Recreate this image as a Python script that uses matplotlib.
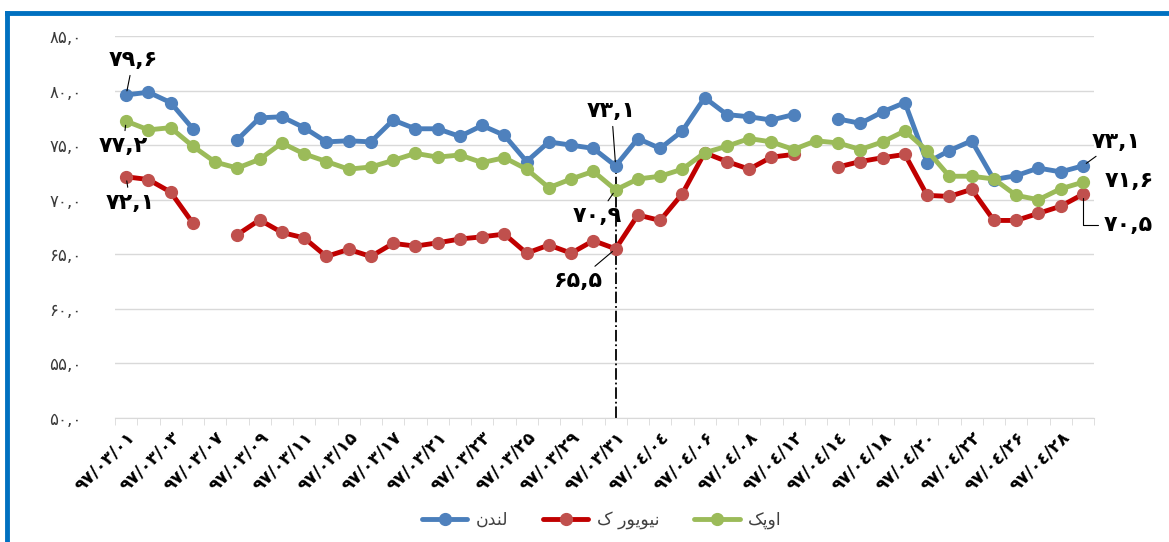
import numpy as np, matplotlib
matplotlib.use("Agg")
import matplotlib.pyplot as plt
from matplotlib.lines import Line2D

# daily prices (97/03/01 .. 97/04/29), nan = no quote
days = ["03/01", "03/02", "03/03", "03/06", "03/07", "03/08", "03/09", "03/10", "03/11",
        "03/14", "03/15", "03/16", "03/17", "03/20", "03/21", "03/22", "03/23", "03/24",
        "03/25", "03/28", "03/29", "03/30", "03/31", "04/03", "04/04", "04/05", "04/06",
        "04/07", "04/08", "04/11", "04/12", "04/13", "04/14", "04/17", "04/18", "04/19",
        "04/20", "04/21", "04/22", "04/25", "04/26", "04/27", "04/28", "04/29"]
nan = np.nan
london = [79.6, 79.85, 78.9, 76.5, nan, 75.5, 77.5, 77.6, 76.6, 75.3, 75.4,
          75.3, 77.3, 76.5, 76.5, 75.8, 76.8, 75.9, 73.5, 75.3, 75.0, 74.7,
          73.1, 75.6, 74.7, 76.3, 79.35, 77.8, 77.6, 77.3, 77.8, nan, 77.4,
          77.0, 78.05, 78.9, 73.4, 74.5, 75.4, 71.85, 72.2, 72.9, 72.55, 73.1]
newyork = [72.1, 71.85, 70.7, 67.85, nan, 66.8, 68.15, 67.0, 66.5, 64.8, 65.45,
           64.8, 66.0, 65.75, 66.05, 66.4, 66.6, 66.85, 65.1, 65.85, 65.1, 66.25,
           65.5, 68.6, 68.1, 70.55, 74.3, 73.5, 72.8, 73.9, 74.15, nan, 73.0,
           73.5, 73.85, 74.15, 70.4, 70.3, 70.95, 68.1, 68.1, 68.75, 69.4, 70.5]
opec = [77.2, 76.4, 76.6, 74.9, 73.45, 72.9, 73.7, 75.2, 74.2, 73.5, 72.8,
        73.0, 73.6, 74.25, 73.9, 74.1, 73.4, 73.85, 72.8, 71.1, 71.9, 72.6,
        70.9, 71.9, 72.15, 72.8, 74.3, 74.9, 75.6, 75.3, 74.6, 75.4, 75.2,
        74.6, 75.3, 76.3, 74.5, 72.15, 72.15, 71.9, 70.4, 70.0, 71.0, 71.6]

# legend names, pre-shaped (visual order) since matplotlib has no RTL shaping
names = ["\uFEE5\uFEAA\uFEE8\uFEDF",                      # لندن
         "\uFB8E \uFEAD\uFEEE\uFBFE\uFEEE\uFBFF\uFEE7",     # نیویورک
         "\uFB8F\uFB58\uFEED\uFE8D"]                        # اوپک

FA = str.maketrans("0123456789", "۰۱۲۳۴۵۶۷۸۹")
def fa(s):
    return s.translate(FA)

def num(v):
    return fa(f"{v:.1f}".replace(".", ","))

def date_label(d):
    return fa("97/" + d).replace("۴", "٤")

fig = plt.figure(figsize=(11.69, 5.42), dpi=100)
ax = fig.add_axes([115/1169, 1-418/542, 979/1169, 382/542])
x = np.arange(len(days))

styles = [(london, "#4A7EBB", "#4F81BD"), (newyork, "#C00000", "#C0504D"), (opec, "#9BBB59", "#9BBB59")]
for (vals, lc, mc), name in zip(styles, names):
    ax.plot(x, vals, color=lc, lw=3.5, marker="o", ms=8.5, mfc=mc, mec=mc, label=name,
            solid_capstyle="round", zorder=3)

ax.set_xlim(-0.5, len(days)-0.5)
ax.set_ylim(50, 85)
ax.set_yticks(np.arange(50, 86, 5))
ax.set_yticklabels([num(v) for v in range(50, 86, 5)], fontsize=12, color="#3A3A3A")
ax.grid(axis="y", color="#D9D9D9", lw=1)
ax.set_axisbelow(True)
ax.tick_params(axis="y", length=0, pad=24)
for s in ["top", "right", "left"]:
    ax.spines[s].set_visible(False)
ax.spines["bottom"].set_color("#D9D9D9")

ax.set_xticks(x[::2])
ax.set_xticklabels([date_label(d) for d in days[::2]], rotation=45, ha="right",
                   rotation_mode="anchor", fontsize=12.5, fontweight="bold")
ax.set_xticks(np.arange(-0.5, len(days), 1), minor=True)
ax.tick_params(axis="x", which="major", length=0, pad=7)
ax.tick_params(axis="x", which="minor", length=5, color="#D9D9D9")

# marker day
ax.vlines(22, 50, london[22], colors="black", linestyles="dashdot", lw=1.3, zorder=2)

lead = dict(arrowstyle="-", color="black", lw=0.8, shrinkA=2, shrinkB=3)
labels = [(london, 0, (7, 35)), (opec, 0, (-3, -25)), (newyork, 0, (4, -26)),
          (london, 22, (-4, 55)), (opec, 22, (-18, -26)), (newyork, 22, (-38, -32)),
          (london, 43, (33, 24))]
for vals, i, off in labels:
    ax.annotate(num(vals[i]), (i, vals[i]), xytext=off,
                textcoords="offset pixels", ha="center", va="center", fontsize=16,
                fontweight="bold", arrowprops=lead, annotation_clip=False)
ax.annotate(num(opec[43]), (43, opec[43]), xytext=(46, 1),
            textcoords="offset pixels", ha="center", va="center", fontsize=16,
            fontweight="bold", annotation_clip=False)
ax.annotate(num(newyork[43]), (43, newyork[43]), xytext=(45, -31),
            textcoords="offset pixels", ha="center", va="center", fontsize=16,
            fontweight="bold", annotation_clip=False,
            arrowprops=dict(arrowstyle="-", color="black", lw=0.8, shrinkA=2, shrinkB=3,
                            connectionstyle="angle,angleA=0,angleB=90,rad=0"))

ax.legend(loc="center", bbox_to_anchor=(602/1169, 1-520/542), bbox_transform=fig.transFigure,
          ncol=3, frameon=False, fontsize=12.5, handlelength=2.6, handletextpad=0.5,
          columnspacing=2.0, labelcolor="#404040")

# blue frame of the original slide
fig.add_artist(Line2D([7/1169, 7/1169], [0, 1-13/542], color="#0070C0", lw=3.5))
fig.add_artist(Line2D([7/1169, 1], [1-13/542, 1-13/542], color="#0070C0", lw=3.5))

fig.savefig("out.png", dpi=100)
